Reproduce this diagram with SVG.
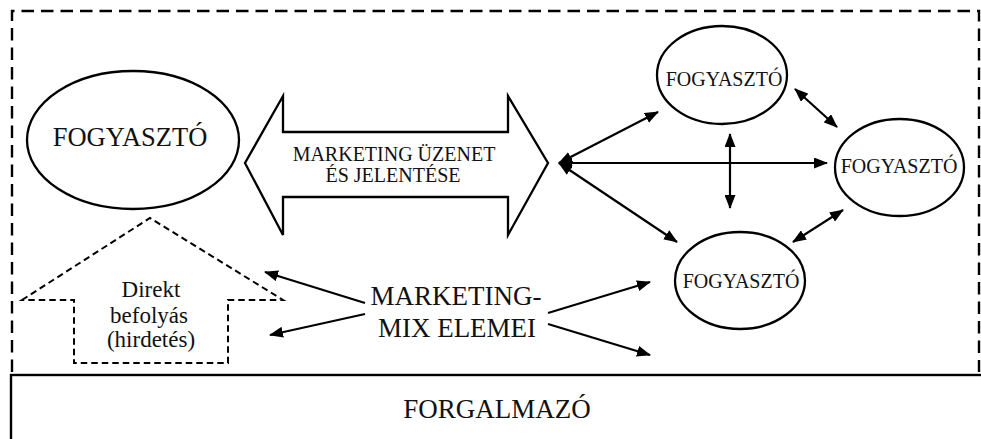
<svg xmlns="http://www.w3.org/2000/svg" width="981" height="439" viewBox="0 0 981 439">
  <style>
    .bg { fill: #ffffff; }
    .frame { fill: none; stroke: #000; stroke-width: 2.4; stroke-dasharray: 12.5 7; }
    .house { fill: none; stroke: #000; stroke-width: 2; stroke-dasharray: 6.5 4; }
    .node { fill: #fff; stroke: #000; stroke-width: 2.3; }
    .box { fill: #fff; stroke: #000; stroke-width: 2.4; }
    .conn { fill: none; stroke: #000; stroke-width: 2.2; }
    .dbl { marker-start: url(#head); marker-end: url(#head); }
    .one { marker-end: url(#head); }
    text { font-family: "Liberation Serif", "Times New Roman", serif; fill: #111; text-anchor: middle; }
    .big { font-size: 26.5px; }
    .small { font-size: 20px; }
    .msg { font-size: 20px; }
    .mix { font-size: 27px; }
    .direkt { font-size: 23px; }
  </style>
  <defs>
    <marker id="head" viewBox="0 0 14 11" refX="13" refY="5.5" markerWidth="14" markerHeight="11" markerUnits="userSpaceOnUse" orient="auto-start-reverse">
      <path d="M0,0 L14,5.5 L0,11 Z" fill="#000"/>
    </marker>
  </defs>

  <rect class="bg" x="0" y="0" width="981" height="439"/>

  <!-- dashed market frame -->
  <path class="frame" d="M12,372 V11 H979 V372"/>

  <!-- distributor base box -->
  <g id="forgalmazo">
    <rect class="box" x="11" y="375" width="980" height="80"/>
    <text x="497" y="418" style="font-size:27px">FORGALMAZÓ</text>
  </g>

  <!-- consumer on the left -->
  <g id="fogyaszto-bal">
    <ellipse class="node" cx="133" cy="140" rx="106" ry="69"/>
    <text class="big" x="130" y="146">FOGYASZTÓ</text>
  </g>

  <!-- two-way message arrow -->
  <g id="uzenet">
    <polygon class="node" points="245,163 283,96 283,132 508,132 508,96 548,163 508,235 508,197 283,197 283,235"/>
    <text class="msg" x="394" y="161">MARKETING ÜZENET</text>
    <text class="msg" x="393" y="182">ÉS JELENTÉSE</text>
  </g>

  <!-- direct influence (dashed house) -->
  <g id="direkt">
    <path class="house" d="M22,300 L150,218 L283,300 L228,300 L228,363 L74,363 L74,300 Z"/>
    <text class="direkt" x="151" y="297">Direkt</text>
    <text class="direkt" x="149" y="323">befolyás</text>
    <text class="direkt" x="151" y="347">(hirdetés)</text>
  </g>

  <!-- marketing mix label -->
  <g id="marketing-mix">
    <text class="mix" x="456" y="305">MARKETING-</text>
    <text class="mix" x="457" y="337">MIX ELEMEI</text>
  </g>

  <!-- consumer network on the right -->
  <g id="fogyaszto-fent">
    <ellipse class="node" cx="722" cy="75" rx="65" ry="49"/>
    <text class="small" x="724" y="86">FOGYASZTÓ</text>
  </g>
  <g id="fogyaszto-jobb">
    <ellipse class="node" cx="899.5" cy="167.5" rx="64.5" ry="48.5"/>
    <text class="small" x="899" y="173">FOGYASZTÓ</text>
  </g>
  <g id="fogyaszto-lent">
    <ellipse class="node" cx="740" cy="280.5" rx="65" ry="48.5"/>
    <text class="small" x="741" y="288">FOGYASZTÓ</text>
  </g>

  <!-- connectors -->
  <g id="connectors">
    <line class="conn dbl" x1="559" y1="163" x2="658" y2="112"/>
    <line class="conn dbl" x1="559" y1="163" x2="827" y2="163"/>
    <line class="conn dbl" x1="559" y1="163" x2="677" y2="242"/>
    <line class="conn dbl" x1="730" y1="134" x2="730" y2="208"/>
    <line class="conn dbl" x1="795" y1="89" x2="837" y2="127"/>
    <line class="conn dbl" x1="843" y1="210" x2="793" y2="242"/>
    <line class="conn one" x1="365" y1="303" x2="265" y2="272"/>
    <line class="conn one" x1="365" y1="314" x2="270" y2="335"/>
    <line class="conn one" x1="548" y1="313" x2="650" y2="282"/>
    <line class="conn one" x1="548" y1="324" x2="650" y2="355"/>
  </g>
</svg>
